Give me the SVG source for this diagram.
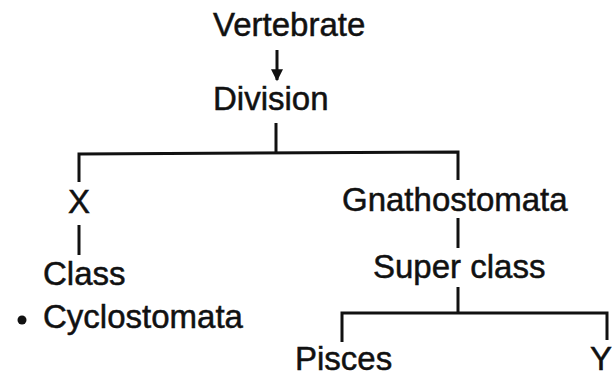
<svg xmlns="http://www.w3.org/2000/svg" width="613" height="378" viewBox="0 0 613 378">
<style>
text{font-family:"Liberation Sans",Arial,sans-serif;font-size:33px;fill:#111;stroke:#111;stroke-width:0.5}
.ln{stroke:#111;stroke-width:3;fill:none}
</style>
<defs>
<marker id="ah" viewBox="0 0 10 10" refX="9" refY="5" markerWidth="4.5" markerHeight="4" orient="auto" markerUnits="strokeWidth">
<path d="M0,0 L10,5 L0,10 z" fill="#111"/>
</marker>
</defs>
<rect width="613" height="378" fill="#fff"/>
<g id="connectors">
<line class="ln" x1="277" y1="50" x2="277" y2="80" marker-end="url(#ah)"/>
<polyline class="ln" points="276,123 276,153"/>
<polyline class="ln" points="79,182 79,154 458,152 458,180"/>
<line class="ln" x1="79" y1="225" x2="79" y2="255"/>
<line class="ln" x1="458" y1="218" x2="458" y2="248"/>
<line class="ln" x1="458" y1="287" x2="458" y2="313"/>
<polyline class="ln" points="342,342 342,313 607,313 607,340"/>
</g>
<g id="vertebrate"><text x="213" y="36">Vertebrate</text></g>
<g id="division"><text x="213" y="110">Division</text></g>
<g id="x"><text x="68" y="213">X</text></g>
<g id="class"><text x="43" y="285">Class</text></g>
<g id="cyclostomata"><circle cx="22" cy="320" r="4.5" fill="#111"/><text x="43" y="328">Cyclostomata</text></g>
<g id="gnathostomata"><text x="342" y="211">Gnathostomata</text></g>
<g id="superclass"><text x="373" y="278">Super class</text></g>
<g id="pisces"><text x="295" y="370">Pisces</text></g>
<g id="y"><text x="590" y="370">Y</text></g>
</svg>
